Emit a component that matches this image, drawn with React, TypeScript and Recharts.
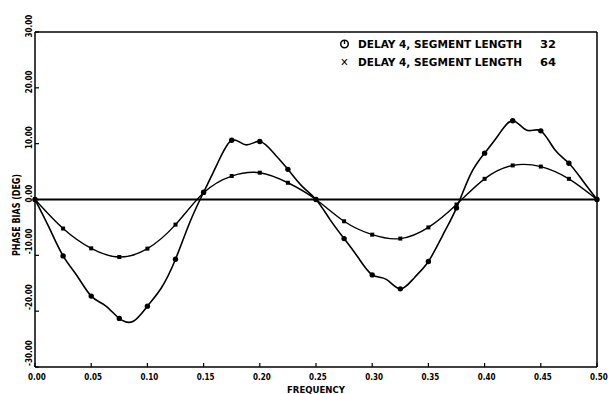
import React from "react";
import { LineChart, Line, XAxis, YAxis, ReferenceLine } from "recharts";

// fine frequency grid (curve), markers every 0.025
const frequency = [0, 0.0125, 0.025, 0.0375, 0.05, 0.0625, 0.075, 0.0875, 0.1, 0.1125, 0.125, 0.1375, 0.15, 0.1625, 0.175, 0.1875, 0.2, 0.2125, 0.225, 0.2375, 0.25, 0.2625, 0.275, 0.2875, 0.3, 0.3125, 0.325, 0.3375, 0.35, 0.3625, 0.375, 0.3875, 0.4, 0.4125, 0.425, 0.4375, 0.45, 0.4625, 0.475, 0.4875, 0.5];
const seg32 = [0, -5.0, -10.1, -13.7, -17.3, -19.0, -21.3, -21.8, -19.1, -15.8, -10.7, -4.2, 1.3, 6.5, 10.6, 9.8, 10.4, 8.3, 5.4, 2.4, 0, -3.6, -7.0, -10.4, -13.5, -14.3, -16.0, -14.0, -11.1, -6.5, -1.5, 4.5, 8.3, 11.6, 14.1, 12.4, 12.3, 8.9, 6.5, 3.3, 0];
const markerFreq = [0, 0.025, 0.05, 0.075, 0.1, 0.125, 0.15, 0.175, 0.2, 0.225, 0.25, 0.275, 0.3, 0.325, 0.35, 0.375, 0.4, 0.425, 0.45, 0.475, 0.5];
const seg64 = [0, -5.2, -8.75, -10.3, -8.8, -4.5, 1.2, 4.2, 4.8, 3.0, 0, -3.9, -6.3, -7.0, -5.0, -0.9, 3.7, 6.1, 5.9, 3.7, 0];
const xTicks = [0, 0.05, 0.1, 0.15, 0.2, 0.25, 0.3, 0.35, 0.4, 0.45, 0.5];
const yTicks = [-30, -20, -10, 0, 10, 20, 30];
const legendLabels = ["DELAY 4,  SEGMENT LENGTH", "DELAY 4,  SEGMENT LENGTH"];
const legendValues = ["32", "64"];

const data = frequency.map((f, i) => {
  const k = markerFreq.indexOf(f);
  return { f, a: seg32[i], b: k >= 0 ? seg64[k] : null, mark: k >= 0 };
});

const FONT = "'DejaVu Sans Condensed', 'DejaVu Sans', sans-serif";

const XTick = (props: any) => {
  const { x, payload } = props;
  return (
    <g>
      <line x1={x} y1={367} x2={x} y2={363} stroke="#000" strokeWidth={1.2} />
      <text x={x + 2} y={380} textAnchor="middle" fontFamily={FONT} fontWeight="bold" fontSize={8} fill="#000">
        {payload.value.toFixed(2)}
      </text>
    </g>
  );
};

const YTick = (props: any) => {
  const { y, payload } = props;
  const lx = 32;
  const ly = payload.value < 0 ? y - 14 : y - 6;
  return (
    <g>
      <line x1={35} y1={y} x2={39} y2={y} stroke="#000" strokeWidth={1.2} />
      <text x={lx} y={ly} transform={`rotate(-90 ${lx} ${ly})`} textAnchor="middle" fontFamily={FONT} fontWeight="bold" fontSize={8} fill="#000">
        {payload.value.toFixed(2)}
      </text>
    </g>
  );
};

const CircleDot = (props: any) => {
  const { cx, cy, payload } = props;
  if (cx == null || cy == null || !payload || !payload.mark) return <g />;
  return <circle cx={cx} cy={cy} r={2.7} fill="#000" />;
};

const SquareDot = (props: any) => {
  const { cx, cy, payload } = props;
  if (cx == null || cy == null || !payload || payload.b == null) return <g />;
  return <rect x={cx - 2} y={cy - 2} width={4} height={4} fill="#000" />;
};

export default function App() {
  return (
    <div style={{ position: "absolute", left: 0, top: 0, width: 616, height: 394, background: "#fff" }}>
      <LineChart width={616} height={394} data={data} margin={{ top: 32, right: 19, left: 0, bottom: 0 }}>
        <XAxis
          dataKey="f"
          type="number"
          domain={[0, 0.5]}
          ticks={xTicks}
          height={27}
          axisLine={{ stroke: "#000", strokeWidth: 1.5 }}
          tickLine={false}
          tick={<XTick />}
          interval={0}
        />
        <YAxis
          type="number"
          domain={[-30, 30]}
          ticks={yTicks}
          width={35}
          axisLine={{ stroke: "#000", strokeWidth: 1.5 }}
          tickLine={false}
          tick={<YTick />}
          interval={0}
        />
        <ReferenceLine y={30} stroke="#000" strokeWidth={1.5} />
        <ReferenceLine x={0.5} stroke="#000" strokeWidth={1.5} />
        <ReferenceLine y={0} stroke="#000" strokeWidth={2} />
        <Line
          type="natural"
          dataKey="a"
          stroke="#000"
          strokeWidth={1.6}
          dot={<CircleDot />}
          isAnimationActive={false}
        />
        <Line
          type="natural"
          dataKey="b"
          stroke="#000"
          strokeWidth={1.4}
          connectNulls
          dot={<SquareDot />}
          isAnimationActive={false}
        />
      </LineChart>
      <svg width={616} height={394} style={{ position: "absolute", left: 0, top: 0, pointerEvents: "none" }}>
        <g fontFamily={FONT} fontWeight="bold" fill="#000">
          <circle cx={344.5} cy={44} r={3.8} fill="none" stroke="#000" strokeWidth={1.5} />
          <line x1={344.5} y1={40.5} x2={344.5} y2={44} stroke="#000" strokeWidth={1.3} />
          <text x={358} y={48.3} fontSize={11} textLength={164} lengthAdjust="spacingAndGlyphs">{legendLabels[0]}</text>
          <text x={540} y={48.3} fontSize={11} textLength={16} lengthAdjust="spacingAndGlyphs">{legendValues[0]}</text>
          <text x={344.5} y={66} fontSize={11} textAnchor="middle">✕</text>
          <text x={358} y={66} fontSize={11} textLength={164} lengthAdjust="spacingAndGlyphs">{legendLabels[1]}</text>
          <text x={540} y={66} fontSize={11} textLength={16} lengthAdjust="spacingAndGlyphs">{legendValues[1]}</text>
          <text x={316} y={393} fontSize={9} textAnchor="middle" textLength={58} lengthAdjust="spacingAndGlyphs">FREQUENCY</text>
          <text x={20} y={215} fontSize={10} textAnchor="middle" transform="rotate(-90 20 215)" textLength={82} lengthAdjust="spacingAndGlyphs">PHASE BIAS (DEG)</text>
        </g>
      </svg>
    </div>
  );
}
